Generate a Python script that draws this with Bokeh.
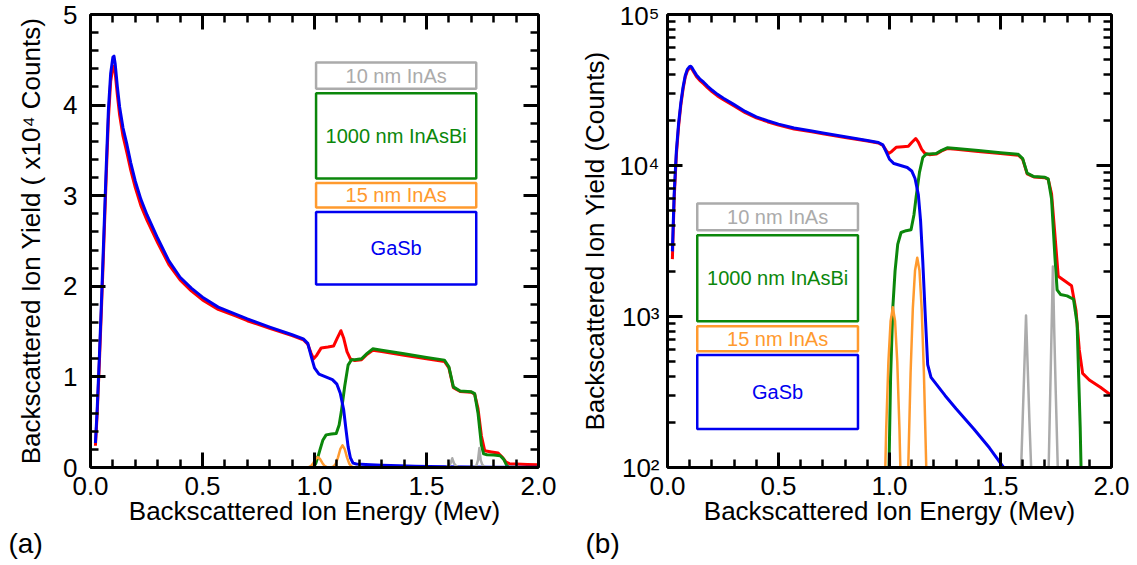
from bokeh.plotting import figure
from bokeh.models import (Range1d, LinearAxis, LogAxis, FixedTicker, BoxAnnotation,
                          Label, CustomJSTickFormatter)
from bokeh.layouts import row
from bokeh.embed import file_html
from bokeh.resources import INLINE

# ---------------- data (counts vs backscattered ion energy, MeV) ----------------
E_total = [0.022, 0.03, 0.04, 0.05, 0.06, 0.07, 0.08, 0.09, 0.1, 0.105, 0.11, 0.12, 0.13,
           0.145, 0.163, 0.18, 0.2, 0.225, 0.252, 0.3, 0.35, 0.4, 0.45, 0.5, 0.57, 0.65,
           0.7, 0.8, 0.9, 0.95, 0.97, 0.985, 0.996, 1.01, 1.03, 1.06, 1.085, 1.1, 1.118,
           1.13, 1.145, 1.16, 1.18, 1.21, 1.235, 1.26, 1.3, 1.4, 1.5, 1.58, 1.6, 1.62,
           1.65, 1.7, 1.715, 1.73, 1.745, 1.76, 1.79, 1.82, 1.84, 1.855, 1.87, 1.9,
           1.95, 2.0]
Y_total = [2400, 6000, 11800, 18200, 25000, 32000, 38500, 42600, 44200, 44300, 43600,
           41100, 38900, 36600, 34700, 32800, 30900, 28900, 27300, 24800, 22400, 20700,
           19500, 18500, 17450, 16700, 16200, 15350, 14550, 14100, 13600, 12600, 12000,
           12400, 13200, 13300, 13400, 14200, 15100, 14300, 12800, 12000, 11800, 11900,
           12500, 12950, 12800, 12400, 12000, 11700, 11000, 8800, 8400, 8300, 8100, 6500,
           3500, 1850, 1720, 1600, 1100, 600, 420, 380, 340, 300]

E_gasb = [0.022, 0.03, 0.04, 0.05, 0.06, 0.07, 0.08, 0.09, 0.1, 0.105, 0.11, 0.12, 0.13,
          0.145, 0.163, 0.18, 0.2, 0.225, 0.252, 0.3, 0.35, 0.4, 0.45, 0.5, 0.57, 0.65,
          0.7, 0.8, 0.9, 0.95, 0.97, 0.985, 1.0, 1.02, 1.05, 1.08, 1.1, 1.115, 1.13, 1.14,
          1.15, 1.16, 1.172, 1.187, 1.25, 1.3, 1.38, 1.45, 1.514, 1.6, 1.7, 1.8, 1.9, 2.0]
Y_gasb = [2700, 6500, 12500, 19000, 26000, 33000, 39500, 43500, 45300, 45400, 44600,
          42000, 39800, 37500, 35600, 33600, 31600, 29600, 27900, 25300, 22800, 21000,
          19800, 18800, 17700, 16900, 16400, 15500, 14650, 14200, 13700, 12300, 11000,
          10300, 10000, 9700, 9200, 8200, 6400, 4300, 2300, 1100, 480, 395, 300, 245,
          180, 135, 100, 70, 50, 35, 25, 18]

E_inasbi = [0.0, 0.98, 0.995, 1.005, 1.015, 1.025, 1.037, 1.052, 1.075, 1.097, 1.11, 1.12,
            1.135, 1.15, 1.165, 1.18, 1.21, 1.235, 1.26, 1.3, 1.4, 1.5, 1.58, 1.6, 1.62,
            1.65, 1.7, 1.715, 1.73, 1.745, 1.755, 1.77, 1.8, 1.829, 1.845, 1.859, 1.866,
            1.9, 2.0]
Y_inasbi = [1, 1, 60, 400, 1150, 2000, 3000, 3600, 3700, 3750, 4700, 6200, 9000, 11300,
            11900, 11900, 12000, 12600, 13100, 12950, 12550, 12150, 11850, 11100, 8900,
            8450, 8350, 8150, 6000, 2500, 1500, 1400, 1370, 1300, 900, 184, 60, 1, 1]

E_inas15 = [0.0, 0.96, 0.975, 0.985, 0.995, 1.005, 1.015, 1.025, 1.035, 1.045, 1.055,
            1.065, 1.075, 1.085, 1.095, 1.105, 1.115, 1.125, 1.135, 1.145, 1.155, 1.165,
            1.175, 1.19, 2.0]
Y_inas15 = [1, 1, 40, 177, 500, 934, 1150, 934, 500, 177, 41, 10, 18, 108, 422, 1123,
            2016, 2450, 2016, 1123, 422, 108, 18, 2, 1]

E_inas10 = [0.0, 1.57, 1.585, 1.593, 1.6, 1.607, 1.615, 1.623, 1.63, 1.638, 1.645, 1.66,
            1.7, 1.71, 1.717, 1.724, 1.73, 1.736, 1.742, 1.749, 1.758, 1.765, 1.78, 2.0]
Y_inas10 = [1, 2, 40, 100, 210, 440, 1016, 440, 210, 100, 45, 8, 6, 40, 100, 310, 810,
            2140, 810, 310, 100, 40, 6, 1]

SCALE_A = 1e4  # panel (a) is in units of 10^4 counts

x_ticks = [0.0, 0.5, 1.0, 1.5, 2.0]
x_tick_labels = ["0.0", "0.5", "1.0", "1.5", "2.0"]
ya_ticks = [0, 1, 2, 3, 4, 5]
ya_tick_labels = ["0", "1", "2", "3", "4", "5"]
yb_ticks = [100, 1000, 10000, 100000]
yb_tick_labels = ["10\u00b2", "10\u00b3", "10\u2074", "10\u2075"]

layer_names = ["10 nm InAs", "1000 nm InAsBi", "15 nm InAs", "GaSb"]
panel_tags = ["(a)", "(b)"]

# ---------------- styling / layout ----------------
FONT = "Liberation Sans"
C_RED = "#ff0000"
C_BLUE = "#0000f0"
C_GREEN = "#0b870b"
C_ORANGE = "#ff9a2e"
C_GRAY = "#ababab"
layer_colors = [C_GRAY, C_GREEN, C_ORANGE, C_BLUE]

# schematic boxes (left, right, top, bottom) in each panel's data coordinates
boxes_a = [(1.007, 1.722, 4.47, 4.18), (1.007, 1.722, 4.13, 3.19),
           (1.007, 1.722, 3.14, 2.87), (1.007, 1.722, 2.82, 2.02)]
boxes_b = [(0.134, 0.858, 5600, 3720), (0.134, 0.858, 3450, 931),
           (0.134, 0.858, 863, 589), (0.134, 0.858, 557, 180)]

x_minor = [i / 10 for i in range(21)]
ya_minor = [i * 0.2 for i in range(26)]
yb_minor = [m * 10 ** k for k in (2, 3, 4) for m in range(1, 10)] + [100000]


def style_axis(ax, ticker, labels=None):
    ax.ticker = ticker
    ax.axis_line_width = 3
    ax.axis_line_color = "black"
    ax.major_tick_in = 15
    ax.major_tick_out = 0
    ax.minor_tick_in = 8
    ax.minor_tick_out = 0
    ax.major_tick_line_width = 3
    ax.minor_tick_line_width = 2.5
    ax.major_tick_line_color = "black"
    ax.minor_tick_line_color = "black"
    ax.major_label_text_font = FONT
    ax.major_label_text_color = "black"
    ax.axis_label_text_font = FONT
    ax.axis_label_text_font_size = "26px"
    ax.axis_label_text_font_style = "normal"
    ax.axis_label_text_color = "black"
    if labels is not None:
        ax.major_label_text_font_size = "26px"
        ax.major_label_overrides = labels
    else:
        ax.formatter = CustomJSTickFormatter(code="return ''")
        ax.major_label_text_font_size = "1px"
        ax.major_label_standoff = 0


def base_fig(width, mbl, mbr, mbt, mbb, y_range, tag, tag_offset, log=False):
    kw = dict(width=width, height=565, x_range=Range1d(0, 2), y_range=y_range,
              output_backend="svg", toolbar_location=None, title=tag,
              title_location="below",
              min_border_left=mbl, min_border_right=mbr,
              min_border_top=mbt, min_border_bottom=mbb)
    if log:
        kw["y_axis_type"] = "log"
    p = figure(**kw)
    p.title.align = "left"
    p.title.vertical_align = "middle"
    p.title.offset = tag_offset
    p.title.standoff = -3
    p.title.text_font = FONT
    p.title.text_font_size = "28px"
    p.title.text_font_style = "normal"
    p.title.text_color = "black"
    p.grid.visible = False
    p.outline_line_color = None
    p.background_fill_color = "white"
    p.border_fill_color = "white"
    return p


def draw_lines(p, scale):
    p.line(E_total, [v / scale for v in Y_total], color=C_RED, line_width=3, line_join="round")
    p.line(E_inasbi, [v / scale for v in Y_inasbi], color=C_GREEN, line_width=3, line_join="round")
    p.line(E_gasb, [v / scale for v in Y_gasb], color=C_BLUE, line_width=3, line_join="round")
    p.line(E_inas15, [v / scale for v in Y_inas15], color=C_ORANGE, line_width=2.5, line_join="round")
    p.line(E_inas10, [v / scale for v in Y_inas10], color=C_GRAY, line_width=2.5, line_join="round")


def draw_boxes(p, boxes, log=False):
    for (l, r, t, b), name, col in zip(boxes, layer_names, layer_colors):
        p.add_layout(BoxAnnotation(left=l, right=r, top=t, bottom=b, fill_color=None,
                                   fill_alpha=0, line_color=col, line_alpha=1.0,
                                   line_width=2.5))
        cy = (t * b) ** 0.5 if log else (t + b) / 2
        p.add_layout(Label(x=(l + r) / 2, y=cy, text=name, text_align="center",
                           text_baseline="middle", text_font=FONT, text_font_size="20px",
                           text_color=col))


def finish_x(ax):
    ax.axis_label = "Backscattered Ion Energy (Mev)"
    ax.major_label_standoff = 9
    ax.axis_label_standoff = -2


# ---------------- panel (a): linear ----------------
pa = base_fig(577, 90, 39, 12, 97, Range1d(0, 5), panel_tags[0], -82)
draw_lines(pa, SCALE_A)
style_axis(pa.xaxis[0], FixedTicker(ticks=x_ticks, minor_ticks=x_minor),
           dict(zip(x_ticks, x_tick_labels)))
style_axis(pa.yaxis[0], FixedTicker(ticks=ya_ticks, minor_ticks=ya_minor),
           dict(zip(ya_ticks, ya_tick_labels)))
finish_x(pa.xaxis[0])
pa.yaxis[0].axis_label = "Backscattered Ion Yield ( x10\u2074 Counts)"
pa.yaxis[0].major_label_standoff = 13
pa.yaxis[0].axis_label_standoff = 14
ta = LinearAxis()
style_axis(ta, FixedTicker(ticks=x_ticks, minor_ticks=x_minor))
pa.add_layout(ta, "above")
ra = LinearAxis()
style_axis(ra, FixedTicker(ticks=ya_ticks, minor_ticks=ya_minor))
pa.add_layout(ra, "right")
draw_boxes(pa, boxes_a)

# ---------------- panel (b): log ----------------
pb = base_fig(560, 88, 26, 14, 98, Range1d(100, 100000), panel_tags[1], -82, log=True)
draw_lines(pb, 1)
style_axis(pb.xaxis[0], FixedTicker(ticks=x_ticks, minor_ticks=x_minor),
           dict(zip(x_ticks, x_tick_labels)))
style_axis(pb.yaxis[0], FixedTicker(ticks=yb_ticks, minor_ticks=yb_minor),
           dict(zip(yb_ticks, yb_tick_labels)))
finish_x(pb.xaxis[0])
pb.yaxis[0].axis_label = "Backscattered Ion Yield (Counts)"
pb.yaxis[0].major_label_standoff = 8
pb.yaxis[0].axis_label_standoff = 6
tb = LinearAxis()
style_axis(tb, FixedTicker(ticks=x_ticks, minor_ticks=x_minor))
pb.add_layout(tb, "above")
rb = LogAxis()
style_axis(rb, FixedTicker(ticks=yb_ticks, minor_ticks=yb_minor))
pb.add_layout(rb, "right")
draw_boxes(pb, boxes_b, log=True)

layout = row(pa, pb)
open("out.html", "w").write(file_html(layout, INLINE))
